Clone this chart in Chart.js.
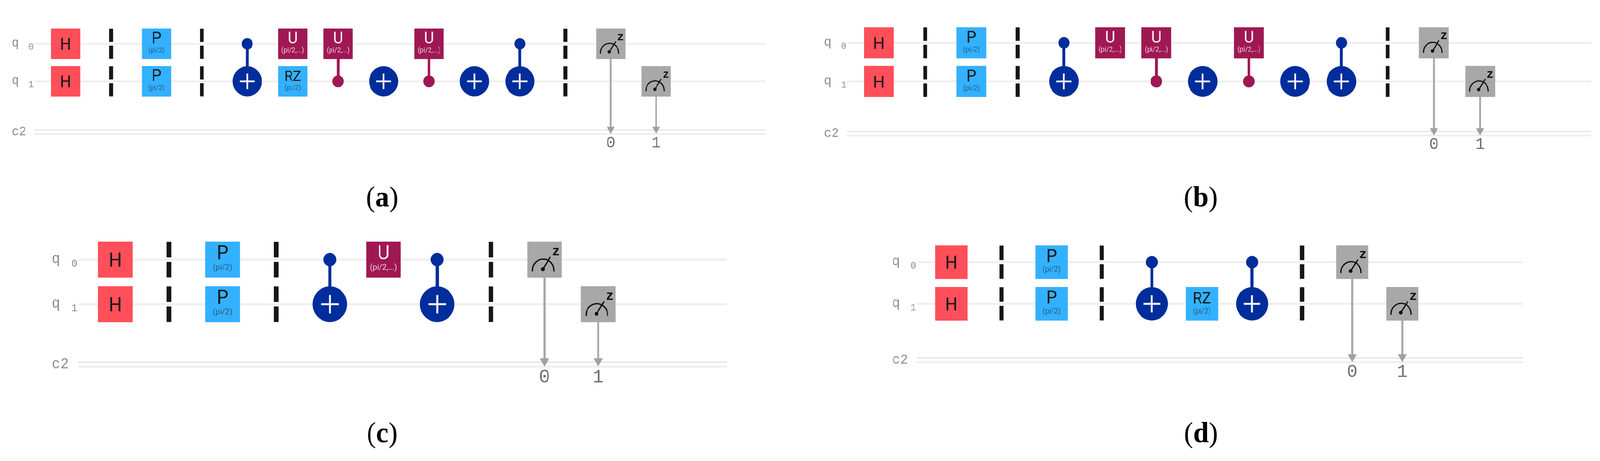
<!DOCTYPE html>
<html>
<head>
<meta charset="utf-8">
<title>Quantum circuits</title>
<script src="https://cdn.jsdelivr.net/npm/chart.js@4"></script>
<style>
html, body { margin: 0; padding: 0; background: #fff; overflow: hidden; }
#page { position: absolute; left: 0; top: 0; width: 4258px; height: 1179px; transform-origin: 0 0; }
canvas { position: absolute; display: block; }
</style>
</head>
<body>
<div id="page"></div>
<script>
// Circuit contents: [column, wire, ...]
var wireNames = ["q", "q"];
var wireIndexes = ["0", "1"];
var classicalName = "c2";
var bitLabels = ["0", "1"];
var classicalRails = [2.30, 2.40];
var barrierDashes = [[-0.40, -0.05], [0.05, 0.40], [0.60, 0.95], [1.05, 1.40]];
var wireStart = -0.69;

var gatesA = [[0, 0, "H"], [0, 1, "H"], [2, 0, "P"], [2, 1, "P"], [5, 0, "U"], [5, 1, "RZ"], [6, 0, "U"], [8, 0, "U"]];
var barriersA = [1, 3, 11];
var targetsA = [4, 7, 9, 10];
var cnotLinksA = [4, 10];
var uLinksA = [6, 8];
var measuresA = [[12, 0, 0], [13, 1, 1]];
var wireEndA = 15.4;

var gatesB = [[0, 0, "H"], [0, 1, "H"], [2, 0, "P"], [2, 1, "P"], [5, 0, "U"], [6, 0, "U"], [8, 0, "U"]];
var barriersB = [1, 3, 11];
var targetsB = [4, 7, 9, 10];
var cnotLinksB = [4, 10];
var uLinksB = [6, 8];
var measuresB = [[12, 0, 0], [13, 1, 1]];
var wireEndB = 15.4;

var gatesC = [[0, 0, "H"], [0, 1, "H"], [2, 0, "P"], [2, 1, "P"], [5, 0, "U"]];
var barriersC = [1, 3, 7];
var targetsC = [4, 6];
var cnotLinksC = [4, 6];
var uLinksC = [];
var measuresC = [[8, 0, 0], [9, 1, 1]];
var wireEndC = 11.4;

var gatesD = [[0, 0, "H"], [0, 1, "H"], [2, 0, "P"], [2, 1, "P"], [5, 1, "RZ"]];
var barriersD = [1, 3, 7];
var targetsD = [4, 6];
var cnotLinksD = [4, 6];
var uLinksD = [];
var measuresD = [[8, 0, 0], [9, 1, 1]];
var wireEndD = 11.4;

// Colores y textos de cada tipo de compuerta
var gateColors = { H: "#ff4f5a", P: "#33b1ff", RZ: "#33b1ff", U: "#9f1853" };
var gateParams = { P: "(pi/2)", RZ: "(pi/2)", U: "(pi/2,...)" };
var BLUE = "#002d9c", MAGENTA = "#9f1853", GRAY = "#a8a8a8", BLACK = "#161616";

var panels = [
    { id: "a", gates: gatesA, barriers: barriersA, targets: targetsA, cnotLinks: cnotLinksA, uLinks: uLinksA, measures: measuresA, wireEnd: wireEndA,
      left: 0, top: 0, width: 2129, height: 590, originX: 174.5, originY: 112, stepX: 120.9, stepY: 96, captionX: 1017, captionY: 528 },
    { id: "b", gates: gatesB, barriers: barriersB, targets: targetsB, cnotLinks: cnotLinksB, uLinks: uLinksB, measures: measuresB, wireEnd: wireEndB,
      left: 2129, top: 0, width: 2129, height: 590, originX: 2339, originY: 109.5, stepX: 123.08, stepY: 98.7, captionX: 3195.5, captionY: 528 },
    { id: "c", gates: gatesC, barriers: barriersC, targets: targetsC, cnotLinks: cnotLinksC, uLinks: uLinksC, measures: measuresC, wireEnd: wireEndC,
      left: 0, top: 590, width: 2129, height: 589, originX: 306.7, originY: 664, stepX: 142.8, stepY: 114, captionX: 1017, captionY: 1131 },
    { id: "d", gates: gatesD, barriers: barriersD, targets: targetsD, cnotLinks: cnotLinksD, uLinks: uLinksD, measures: measuresD, wireEnd: wireEndD,
      left: 2129, top: 590, width: 2129, height: 589, originX: 2532, originY: 670.5, stepX: 133.33, stepY: 106.5, captionX: 3196, captionY: 1131 }
];

function lineSet(points, color, width, order) {
    return { data: points, showLine: true, borderColor: color, borderWidth: width, borderCapStyle: "butt",
             pointRadius: 0, order: order };
}

function markSet(points, style, color, radius, order) {
    return { data: points, pointStyle: style, pointRadius: radius, backgroundColor: color,
             borderWidth: 0, pointBorderWidth: 0, order: order };
}

function buildDatasets(p) {
    var u = p.stepX, sets = [];

    // cables cuánticos y registro clásico
    [0, 1].forEach(function(w) {
        sets.push(lineSet([{ x: wireStart, y: w }, { x: p.wireEnd, y: w }], "#efefef", u * 0.04, 40));
    });
    sets.push(lineSet([{ x: wireStart, y: classicalRails[0] }, { x: p.wireEnd, y: classicalRails[0] }], "#e4e4e4", u * 0.024, 40));
    sets.push(lineSet([{ x: wireStart, y: classicalRails[1] }, { x: p.wireEnd, y: classicalRails[1] }], "#efefef", u * 0.04, 40));

    // barreras
    var dashes = [];
    p.barriers.forEach(function(c) {
        barrierDashes.forEach(function(d) {
            dashes.push({ x: c, y: d[0] }, { x: c, y: d[1] }, { x: c, y: null });
        });
    });
    sets.push(lineSet(dashes, BLACK, u * 0.085, 30));

    // enlaces de control
    var links = function(cols) {
        var pts = [];
        cols.forEach(function(c) { pts.push({ x: c, y: 0 }, { x: c, y: 1 }, { x: c, y: null }); });
        return pts;
    };
    sets.push(lineSet(links(p.cnotLinks), BLUE, u * 0.06, 25));
    sets.push(lineSet(links(p.uLinks), MAGENTA, u * 0.06, 25));

    // compuertas de una línea
    Object.keys(gateColors).forEach(function(kind) {
        var pts = p.gates.filter(function(g) { return g[2] === kind; })
                         .map(function(g) { return { x: g[0], y: g[1] }; });
        sets.push(markSet(pts, "rect", gateColors[kind], u * 0.456, 20));
    });

    // puntos de control y objetivos CNOT
    sets.push(markSet(p.cnotLinks.map(function(c) { return { x: c, y: 0 }; }), "circle", BLUE, u * 0.12, 20));
    sets.push(markSet(p.uLinks.map(function(c) { return { x: c, y: 1 }; }), "circle", MAGENTA, u * 0.125, 20));
    var targetPts = p.targets.map(function(c) { return { x: c, y: 1 }; });
    sets.push(markSet(targetPts, "circle", BLUE, u * 0.32, 20));
    sets.push({ data: targetPts, pointStyle: "cross", pointRadius: u * 0.165, pointBorderColor: "#ffffff",
                pointBorderWidth: u * 0.036, order: 15 });

    // mediciones: caja, línea y flecha hasta el registro clásico
    var measureLinks = [], heads = [], boxes = [];
    var headRadius = u * 0.1;
    p.measures.forEach(function(m) {
        boxes.push({ x: m[0], y: m[1] });
        measureLinks.push({ x: m[0], y: m[1] }, { x: m[0], y: classicalRails[1] - headRadius / p.stepY }, { x: m[0], y: null });
        heads.push({ x: m[0], y: classicalRails[1] - headRadius / p.stepY });
    });
    sets.push(lineSet(measureLinks, GRAY, u * 0.04, 24));
    sets.push(markSet(boxes, "rect", GRAY, u * 0.456, 20));
    var headSet = markSet(heads, "triangle", "#a0a0a0", headRadius, 20);
    headSet.pointRotation = 180;
    sets.push(headSet);
    return sets;
}

function sans(size, weight) {
    return (weight || "400") + " " + size + "px Roboto, sans-serif";
}

// Dibuja textos y medidores usando las escalas del gráfico
var circuitTextPlugin = {
    id: "circuitText",
    afterDatasetsDraw: function(chart) {
        var p = chart.options.plugins.circuitText.panel;
        var ctx = chart.ctx, u = p.stepX;
        var X = function(v) { return chart.scales.x.getPixelForValue(v); };
        var Y = function(v) { return chart.scales.y.getPixelForValue(v); };
        ctx.save();
        ctx.textAlign = "center";
        ctx.textBaseline = "alphabetic";

        p.gates.forEach(function(g) {
            var kind = g[2], x = X(g[0]), y = Y(g[1]), param = gateParams[kind];
            var dark = kind !== "U";
            ctx.fillStyle = dark ? "#161616" : "#f8eef2";
            ctx.font = sans(u * (kind === "RZ" ? 0.30 : 0.345));
            if (param) {
                ctx.fillText(kind, x, y - u * 0.005);
                ctx.font = sans(u * 0.145);
                ctx.fillStyle = dark ? "rgba(22,22,22,0.55)" : "rgba(255,255,255,0.8)";
                ctx.fillText(param, x, y + u * 0.185);
            } else {
                ctx.fillText(kind, x, y + u * 0.125);
            }
        });

        p.measures.forEach(function(m) {
            var x = X(m[0]), y = Y(m[1]);
            ctx.strokeStyle = "#111111";
            ctx.fillStyle = "#111111";
            ctx.lineWidth = u * 0.025;
            ctx.beginPath();
            ctx.arc(x - u * 0.025, y + u * 0.19, u * 0.2, Math.PI - 0.1, 0.1);
            ctx.stroke();
            ctx.beginPath();
            ctx.moveTo(x - u * 0.03, y + u * 0.17);
            ctx.lineTo(x + u * 0.11, y - u * 0.05);
            ctx.stroke();
            ctx.beginPath();
            ctx.arc(x - u * 0.03, y + u * 0.17, u * 0.036, 0, Math.PI * 2);
            ctx.fill();
            ctx.font = "700 " + (u * 0.25) + "px 'Liberation Mono', monospace";
            ctx.fillText("z", x + u * 0.215, y - u * 0.078);

            ctx.fillStyle = "#6f6f6f";
            ctx.font = (u * 0.34) + "px 'Liberation Mono', monospace";
            ctx.fillText(bitLabels[m[2]], x, Y(classicalRails[1]) + u * 0.284);
        });

        var labelX = X(wireStart) - u * 0.497;
        ctx.fillStyle = "#8d8d8d";
        wireNames.forEach(function(name, w) {
            ctx.textAlign = "left";
            ctx.font = (u * 0.27) + "px 'Liberation Mono', monospace";
            ctx.fillText(name, labelX, Y(w) + u * 0.06);
            ctx.textAlign = "center";
            ctx.font = (u * 0.2) + "px 'Liberation Mono', monospace";
            ctx.fillText(wireIndexes[w], X(wireStart) - u * 0.07, Y(w) + u * 0.126);
        });
        ctx.textAlign = "left";
        ctx.font = (u * 0.27) + "px 'Liberation Mono', monospace";
        ctx.fillText(classicalName, labelX, Y(classicalRails[0]) + u * 0.11);

        // leyenda (a), (b)... con la letra en negrita
        ctx.fillStyle = "#000000";
        var size = 74;
        var regular = size + "px 'Liberation Serif', serif";
        var bold = "700 " + size + "px 'Liberation Serif', serif";
        ctx.font = regular;
        var parenL = ctx.measureText("(").width, parenR = ctx.measureText(")").width;
        ctx.font = bold;
        var letterW = ctx.measureText(p.id).width;
        var cx = p.captionX - p.left - (parenL + letterW + parenR) / 2;
        var cy = p.captionY - p.top;
        ctx.font = regular;
        ctx.fillText("(", cx, cy);
        ctx.fillText(")", cx + parenL + letterW, cy);
        ctx.font = bold;
        ctx.fillText(p.id, cx + parenL, cy);
        ctx.restore();
    }
};

function drawPanel(p) {
    var canvas = document.createElement("canvas");
    canvas.style.left = p.left + "px";
    canvas.style.top = p.top + "px";
    canvas.width = p.width;
    canvas.height = p.height;
    document.getElementById("page").appendChild(canvas);

    var x0 = p.originX - p.left, y0 = p.originY - p.top;
    new Chart(canvas.getContext("2d"), {
        type: "scatter",
        data: { datasets: buildDatasets(p) },
        plugins: [circuitTextPlugin],
        options: {
            responsive: false,
            animation: false,
            events: [],
            layout: { autoPadding: false, padding: 0 },
            scales: {
                x: { type: "linear", display: false, min: -x0 / p.stepX, max: (p.width - x0) / p.stepX },
                y: { type: "linear", display: false, reverse: true, min: -y0 / p.stepY, max: (p.height - y0) / p.stepY }
            },
            plugins: {
                legend: { display: false },
                title: { display: false },
                tooltip: { enabled: false },
                circuitText: { panel: p }
            }
        }
    });
}

panels.forEach(drawPanel);

// La ventana puede ser más angosta que el dibujo: ajustar el ancho para que quepa todo
document.getElementById("page").style.transform = "scaleX(" + Math.min(1, window.innerWidth / 4258) + ")";
</script>
</body>
</html>
